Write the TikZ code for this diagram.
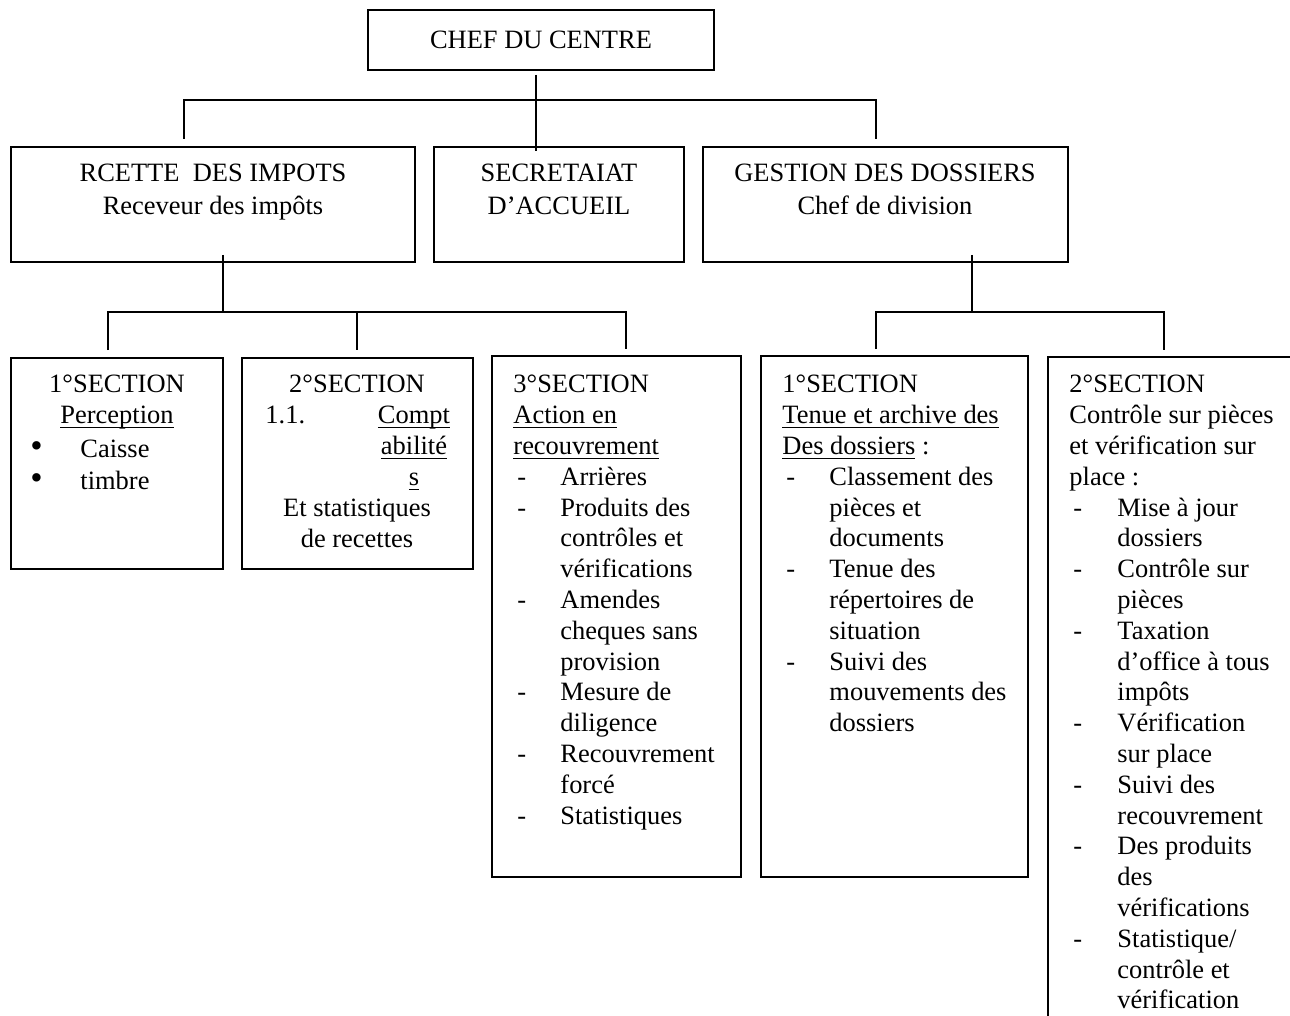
\documentclass[tikz,border=0pt]{standalone}
\usepackage{fontspec}
\setmainfont{Liberation Serif}
\usetikzlibrary{fit,calc}
% one drawing unit
\newlength\pxu
\setlength\pxu{0.4536pt}
% underline at a fixed depth below the baseline
\newcommand\undl[1]{\setbox0\hbox{#1}\rlap{\rule[-1.9pt]{\wd0}{0.55pt}}\box0\relax}
\newcommand\mc[1]{\multicolumn{2}{@{}l@{}}{#1}}
\newcommand\dsh{\hspace*{4\pxu}-}
\newcommand\bigbul{{\fontsize{16}{16}\selectfont\textbullet}}
\begin{document}
\begin{tikzpicture}[x=0.4536pt,y=-0.4536pt,
  box/.style={draw,line width=0.9pt,inner sep=0pt},
  link/.style={line width=0.75pt},
  txt/.style={inner sep=0pt,font=\fontsize{12}{13.97}\selectfont}]
\useasboundingbox (0,0) rectangle (1290,1016);
\clip (0,0) rectangle (1290,1016);

% frames
\node[box,fit={(368,10) (714,70)}] (chef) {};
\node[box,fit={(11,147) (415,262)}] (rc) {};
\node[box,fit={(434,147) (684,262)}] (sec) {};
\node[box,fit={(703,147) (1068,262)}] (gd) {};
\node[box,fit={(11,358) (223,569)}] (s1) {};
\node[box,fit={(242,358) (473,569)}] (s2) {};
\node[box,fit={(492,356) (741,877)}] (s3) {};
\node[box,fit={(761,356) (1028,877)}] (g1) {};
\node[box,fit={(1048,357) (1330,1060)}] (g2) {};

% junction points of the connector lines
\coordinate (j0) at (536,100);
\coordinate (bL) at (184,100);
\coordinate (bR) at (876,100);
\coordinate (cL) at (223,312);
\coordinate (d1) at (108,312);
\coordinate (d2) at (357,312);
\coordinate (d3) at (626,312);
\coordinate (cR) at (972,312);
\coordinate (e1) at (876,312);
\coordinate (e2) at (1164,312);

% connectors
\draw[link] ($(chef.south -| j0)+(0,4)$) -- ($(sec.north -| j0)+(0,5)$);
\draw[link] ($(rc.north -| bL)+(0,-7)$) |- (bR) -- ($(gd.north -| bR)+(0,-7)$);
\draw[link] ($(rc.south -| cL)+(0,-8)$) -- (cL);
\draw[link] ($(s1.north -| d1)+(0,-7)$) |- (d3) -- ($(s3.north -| d3)+(0,-6)$);
\draw[link] (d2) -- ($(s2.north -| d2)+(0,-7)$);
\draw[link] ($(gd.south -| cR)+(0,-8)$) -- (cR);
\draw[link] ($(g1.north -| e1)+(0,-6)$) |- (e2) -- ($(g2.north -| e2)+(0,-6)$);

% texts
\node[txt,anchor=base] (tchef) at (541,49) {CHEF DU CENTRE};
\node[txt,anchor=base] (trc) at (213,182)
  {\begin{tabular}[t]{@{}c@{}}RCETTE\ \ DES IMPOTS\\[0.55pt] Receveur des impôts\end{tabular}};
\node[txt,anchor=base] (tsec) at (559,182)
  {\begin{tabular}[t]{@{}c@{}}SECRETAIAT\\[0.55pt] D’ACCUEIL\end{tabular}};
\node[txt,anchor=base] (tgd) at (885,182)
  {\begin{tabular}[t]{@{}c@{}}GESTION DES DOSSIERS\\[0.55pt] Chef de division\end{tabular}};

% 1st section, receipts
\node[txt,anchor=base] (ts1) at (117,393)
  {\begin{tabular}[t]{@{}c@{}}1°SECTION\\ \undl{Perception}\end{tabular}};
\node[txt,anchor=base west] (ls1) at (30,457.5)
  {\begin{tabular}[t]{@{}p{50\pxu}@{}l@{}}\bigbul & Caisse\\[0.55pt] \bigbul & timbre\end{tabular}};

% 2nd section, receipts
\node[txt,anchor=base] (ts2) at (357,393) {2°SECTION};
\node[txt,anchor=base west] (ns2) at (265,424) {1.1.};
\node[txt,anchor=base] (us2) at (414,424)
  {\begin{tabular}[t]{@{}c@{}}\undl{Compt}\\ \undl{abilité}\\ \undl{s}\end{tabular}};
\node[txt,anchor=base] (es2) at (357,517)
  {\begin{tabular}[t]{@{}c@{}}Et statistiques\\ de recettes\end{tabular}};

% 3rd section, receipts
\node[txt,anchor=base west] (ts3) at (513,393)
  {\begin{tabular}[t]{@{}p{47\pxu}@{}l@{}}
  \mc{3°SECTION}\\
  \mc{\undl{Action en}}\\
  \mc{\undl{recouvrement}}\\
  \dsh & Arrières\\
  \dsh & Produits des\\
       & contrôles et\\
       & vérifications\\
  \dsh & Amendes\\
       & cheques sans\\
       & provision\\
  \dsh & Mesure de\\
       & diligence\\
  \dsh & Recouvrement\\
       & forcé\\
  \dsh & Statistiques
  \end{tabular}};

% 1st section, files
\node[txt,anchor=base west] (tg1) at (782,393)
  {\begin{tabular}[t]{@{}p{47\pxu}@{}l@{}}
  \mc{1°SECTION}\\
  \mc{\undl{Tenue et archive des}}\\
  \mc{\undl{Des dossiers} :}\\
  \dsh & Classement des\\
       & pièces et\\
       & documents\\
  \dsh & Tenue des\\
       & répertoires de\\
       & situation\\
  \dsh & Suivi des\\
       & mouvements des\\
       & dossiers
  \end{tabular}};

% 2nd section, files
\node[txt,anchor=base west] (tg2) at (1069,393)
  {\begin{tabular}[t]{@{}p{48\pxu}@{}l@{}}
  \mc{2°SECTION}\\
  \mc{Contrôle sur pièces}\\
  \mc{et vérification sur}\\
  \mc{place :}\\
  \dsh & Mise à jour\\
       & dossiers\\
  \dsh & Contrôle sur\\
       & pièces\\
  \dsh & Taxation\\
       & d’office à tous\\
       & impôts\\
  \dsh & Vérification\\
       & sur place\\
  \dsh & Suivi des\\
       & recouvrement\\
  \dsh & Des produits\\
       & des\\
       & vérifications\\
  \dsh & Statistique/\\
       & contrôle et\\
       & vérification
  \end{tabular}};
\end{tikzpicture}
\end{document}
